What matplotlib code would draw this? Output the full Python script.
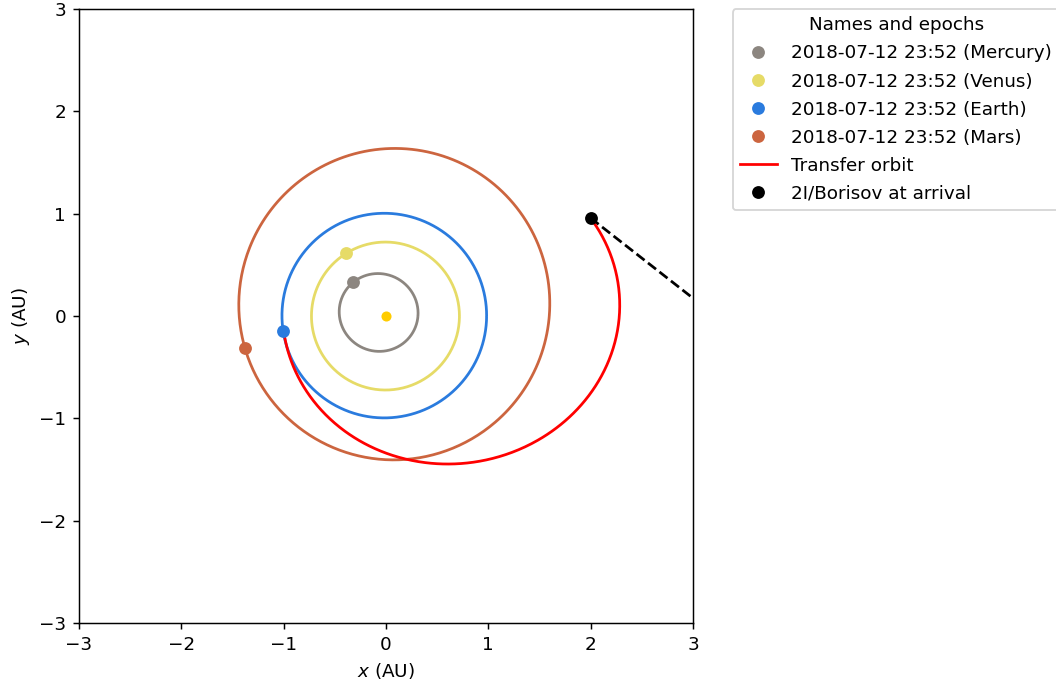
import numpy as np
import matplotlib
matplotlib.use("Agg")
import matplotlib.pyplot as plt

# Planet orbits (projected on plot plane)
planets = ["Mercury", "Venus", "Earth", "Mars"]
colors = ["#8c8680", "#e6db67", "#2a7bde", "#cc653f"]
semi_major = [0.387, 0.723, 1.000, 1.524]  # AU
eccentricity = [0.206, 0.007, 0.017, 0.093]
perihelion_deg = [334, 0, 345, 235]  # direction of perihelion
longitude_deg = [134.0, 122.6, 188.0, 192.7]  # planet position at epoch
epoch = "2018-07-12 23:52"

# Transfer orbit (conic about the Sun)
transfer_p = 1.402
transfer_e = 0.388
transfer_w = 186.9
transfer_start = 188.0
transfer_end = 385.6

# 2I/Borisov incoming track after arrival
borisov_x = [2.0, 3.3]
borisov_y = [0.958, -0.06]

ticks = [-3, -2, -1, 0, 1, 2, 3]

DPI = 132


def conic(p, e, w, theta_deg):
    th = np.radians(theta_deg)
    r = p / (1 + e * np.cos(th - np.radians(w)))
    return r * np.cos(th), r * np.sin(th)


fig = plt.figure(figsize=(1056 / DPI, 686 / DPI), dpi=DPI)
ax = fig.add_axes([0.0748, 0.0918, 0.5814, 0.8950])

# sun
ax.plot(0, 0, "o", mew=0, ms=5.5, color="#ffcc00")

handles = []
for name, c, a, e, w, lon in zip(planets, colors, semi_major, eccentricity,
                                 perihelion_deg, longitude_deg):
    p = a * (1 - e ** 2)
    x, y = conic(p, e, w, np.linspace(0, 360, 400))
    ax.plot(x, y, color=c, lw=1.5, solid_capstyle="butt",
            solid_joinstyle="round")
    px, py = conic(p, e, w, lon)
    h, = ax.plot(px, py, "o", mew=0, ms=7, color=c,
                 label="%s (%s)" % (epoch, name), zorder=4)
    handles.append(h)

tx, ty = conic(transfer_p, transfer_e, transfer_w,
               np.linspace(transfer_start, transfer_end, 400))
h, = ax.plot(tx, ty, color="red", lw=1.5, label="Transfer orbit", zorder=3)
handles.append(h)

ax.plot(borisov_x, borisov_y, "--", color="black", lw=1.5)
h, = ax.plot(tx[-1], ty[-1], "o", mew=0, ms=7, color="black",
             label="2I/Borisov at arrival", zorder=5)
handles.append(h)

ax.set_xlim(-3, 3)
ax.set_ylim(-3, 3)
ax.set_aspect("equal")
ax.set_xticks(ticks)
ax.set_yticks(ticks)
ax.set_xlabel("$x$ (AU)")
ax.set_ylabel("$y$ (AU)")

ax.legend(handles=handles, loc="upper left", bbox_to_anchor=(1.05, 1.015),
          title="Names and epochs", labelspacing=0.55)

fig.savefig("out.png", dpi=DPI)
